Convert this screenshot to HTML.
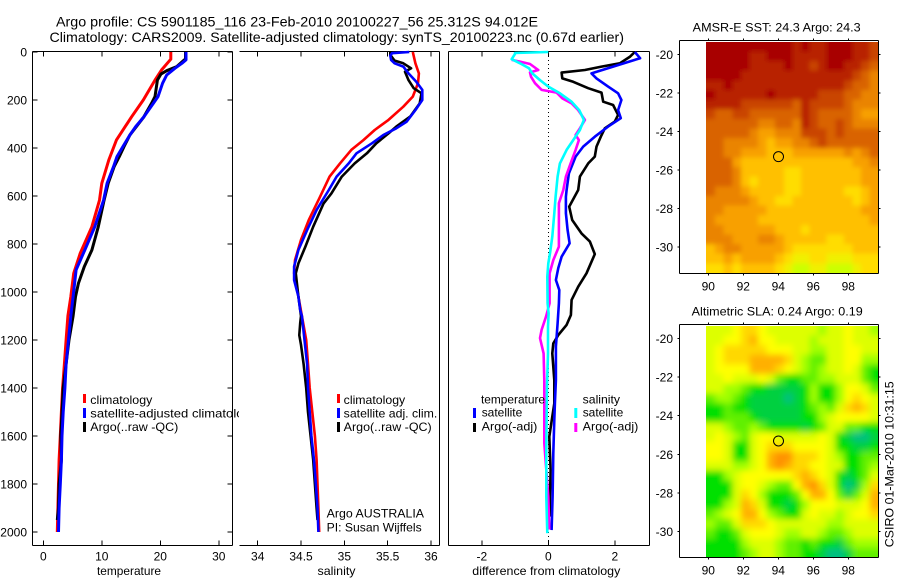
<!DOCTYPE html>
<html lang="en">
<head>
<meta charset="utf-8">
<title>Argo profile chart</title>
<style>
html,body{margin:0;padding:0;background:#fff;}
svg{display:block;}
text{font-family:"Liberation Sans",sans-serif;font-size:12px;fill:#000;}
.ttl{font-size:14px;}
</style>
</head>
<body>
<svg id="chart" xmlns="http://www.w3.org/2000/svg" width="900" height="580" viewBox="0 0 900 580">
<defs>
<clipPath id="panel1-legend-clip"><rect x="32" y="380" width="207" height="70"/></clipPath>
<filter id="sst-soften" filterUnits="userSpaceOnUse" x="660" y="0" width="240" height="300"><feGaussianBlur stdDeviation="2.4"/></filter>
<filter id="sla-soften" filterUnits="userSpaceOnUse" x="660" y="290" width="240" height="290"><feGaussianBlur stdDeviation="3.2"/></filter>
<clipPath id="sst-image-clip"><rect x="706" y="42" width="172" height="231"/></clipPath>
<clipPath id="sla-image-clip"><rect x="706" y="326" width="172" height="231"/></clipPath>
</defs>
<text class="ttl" x="56" y="26.5" textLength="482" lengthAdjust="spacingAndGlyphs">Argo profile: CS 5901185_116 23-Feb-2010 20100227_56 25.312S 94.012E</text>
<text class="ttl" x="49.5" y="42" textLength="574.5" lengthAdjust="spacingAndGlyphs">Climatology: CARS2009. Satellite-adjusted climatology: synTS_20100223.nc (0.67d earlier)</text>
<g id="plots"></g>
<text x="97" y="575" textLength="64" lengthAdjust="spacingAndGlyphs">temperature</text>
<text x="317.5" y="575" textLength="38" lengthAdjust="spacingAndGlyphs">salinity</text>
<text x="472.3" y="575" textLength="148" lengthAdjust="spacingAndGlyphs">difference from climatology</text>

<g>
<rect x="83" y="394" width="3" height="9" fill="#ff0000"/>
<rect x="83" y="408" width="3" height="10" fill="#0000ff"/>
<rect x="83" y="422" width="3" height="10" fill="#000"/>
<text x="90.3" y="404" textLength="62" lengthAdjust="spacingAndGlyphs">climatology</text>
<text x="90.3" y="417.5" clip-path="url(#panel1-legend-clip)" textLength="167" lengthAdjust="spacingAndGlyphs">satellite-adjusted climatology</text>
<text x="90.3" y="431" textLength="88" lengthAdjust="spacingAndGlyphs">Argo(..raw -QC)</text>
</g>

<g>
<rect x="337" y="394" width="3" height="9" fill="#ff0000"/>
<rect x="337" y="408" width="3" height="10" fill="#0000ff"/>
<rect x="337" y="422" width="3" height="10" fill="#000"/>
<text x="343.7" y="404" textLength="61.5" lengthAdjust="spacingAndGlyphs">climatology</text>
<text x="343.7" y="417.5" textLength="93.6" lengthAdjust="spacingAndGlyphs">satellite adj. clim.</text>
<text x="343.7" y="431" textLength="88" lengthAdjust="spacingAndGlyphs">Argo(..raw -QC)</text>
<text x="326.7" y="517.3" textLength="97.3" lengthAdjust="spacingAndGlyphs">Argo AUSTRALIA</text>
<text x="326.7" y="531.7" textLength="95" lengthAdjust="spacingAndGlyphs">PI: Susan Wijffels</text>
</g>

<g>
<text x="481" y="403.3" textLength="64" lengthAdjust="spacingAndGlyphs">temperature</text>
<rect x="473" y="408" width="3" height="10" fill="#0000ff"/>
<text x="481.7" y="416.7" textLength="40.6" lengthAdjust="spacingAndGlyphs">satellite</text>
<rect x="473" y="423" width="3" height="9" fill="#000"/>
<text x="481.7" y="430.7" textLength="55.6" lengthAdjust="spacingAndGlyphs">Argo(-adj)</text>
<text x="582.7" y="403.3" textLength="37.3" lengthAdjust="spacingAndGlyphs">salinity</text>
<rect x="574.3" y="408" width="3" height="10" fill="#00ffff"/>
<text x="582.7" y="416.7" textLength="40.6" lengthAdjust="spacingAndGlyphs">satellite</text>
<rect x="574.3" y="423" width="3" height="9" fill="#ff00ff"/>
<text x="582.7" y="430.7" textLength="55.6" lengthAdjust="spacingAndGlyphs">Argo(-adj)</text>
</g>

<text x="692.7" y="31.7" textLength="168" lengthAdjust="spacingAndGlyphs">AMSR-E SST: 24.3 Argo: 24.3</text>
<text x="691.7" y="315.7" textLength="171" lengthAdjust="spacingAndGlyphs">Altimetric SLA: 0.24 Argo: 0.19</text>
<text transform="translate(893.5,547.3) rotate(-90)" x="0" y="0" textLength="166" lengthAdjust="spacingAndGlyphs">CSIRO 01-Mar-2010 10:31:15</text>
</svg>

<script>
// ---------- axis tick labels ----------
const depthTicks = [0,200,400,600,800,1000,1200,1400,1600,1800,2000];
const temperatureTicks = [0,10,20,30];
const salinityTicks = [34,34.5,35,35.5,36];
const differenceTicks = [-2,0,2];
const lonTicks = [90,92,94,96,98];
const latTicks = [-20,-22,-24,-26,-28,-30];

// ---------- temperature profiles ----------
const tempClimDepth = [0,30,75,117,200,270,311,367,450,547,617,728,839,922,1020,1100,1200,1300,1400,1500,1600,1700,1800,1900,2000];
const tempClimValue = [21.8,21.8,20.2,19.1,17.1,15.1,14.0,12.5,11.2,10.0,9.6,8.3,6.3,5.2,4.7,4.2,3.9,3.6,3.3,3.1,2.9,2.7,2.6,2.5,2.4];
const tempSatDepth = [0,33,47,68,96,130,186,214,270,311,346,394,436,478,547,617,728,825,908,1020,1100,1200,1300,1400,1500,1600,1700,1800,1900,2000];
const tempSatValue = [24.4,24.4,23.7,22.5,21.1,20.4,19.6,18.8,17.2,15.8,14.8,13.6,12.6,12.0,10.9,10.3,8.8,7.1,5.6,5.1,4.7,4.3,3.9,3.7,3.4,3.2,3.1,2.9,2.7,2.6];
const tempArgoDepth = [0,30,33,61,78,92,117,186,214,270,346,394,436,478,547,617,728,825,894,964,1020,1100,1200,1300,1400,1500,1600,1700,1800,1900,1950];
const tempArgoValue = [24.3,24.3,24.1,22.8,21.1,20.1,19.5,19.1,18.5,17.2,14.8,13.8,13.0,12.1,11.1,10.4,9.4,8.3,7.0,6.0,5.5,5.1,4.4,3.9,3.4,3.2,3.0,3.1,2.7,2.6,2.4];

// ---------- salinity profiles ----------
const salClimDepth = [0,47,89,130,186,228,283,325,367,408,464,519,603,700,783,867,922,1000,1100,1200,1300,1400,1500,1600,1700,1800,1900,2000];
const salClimValue = [35.79,35.82,35.86,35.85,35.79,35.68,35.51,35.35,35.22,35.08,34.95,34.83,34.72,34.59,34.50,34.43,34.42,34.46,34.51,34.56,34.58,34.60,34.63,34.66,34.68,34.69,34.70,34.71];
const salSatDepth = [0,5,15,33,47,61,89,124,158,200,242,290,318,346,380,422,464,519,575,658,742,825,894,950,1019,1075,1100,1200,1300,1400,1500,1600,1700,1800,1900,2000];
const salSatValue = [35.75,35.55,35.53,35.54,35.58,35.68,35.74,35.83,35.90,35.90,35.82,35.72,35.60,35.45,35.32,35.14,35.05,34.91,34.82,34.68,34.57,34.47,34.42,34.42,34.47,34.49,34.51,34.54,34.57,34.58,34.60,34.62,34.65,34.67,34.69,34.70];
const salArgoDepth = [0,12,36,47,68,82,117,151,172,214,269,311,339,380,422,464,519,589,631,728,811,881,922,1019,1100,1130,1180,1220,1300,1400,1500,1600,1700,1800,1900,1950];
const salArgoValue = [35.53,35.53,35.58,35.68,35.77,35.70,35.74,35.80,35.89,35.87,35.76,35.60,35.51,35.37,35.26,35.12,34.97,34.85,34.76,34.64,34.55,34.47,34.44,34.47,34.50,34.49,34.48,34.50,34.53,34.56,34.58,34.61,34.64,34.66,34.68,34.69];

// ---------- differences from climatology ----------
const diffTempArgoDepth = [0,19,47,61,75,86,110,124,151,169,207,221,262,290,318,353,394,436,464,519,575,644,700,756,790,842,922,978,1033,1096,1137,1179,1214,1256,1367,1464,1519,1603,1742,1853,1936];
const diffTempArgoValue = [2.6,2.46,2.15,1.6,1.1,0.4,0.42,0.75,1.2,1.6,1.65,1.95,2.1,2.0,1.7,1.58,1.45,1.4,1.2,0.95,0.9,0.63,0.72,1.0,1.25,1.4,1.15,0.9,0.7,0.68,0.55,0.3,0.15,0.12,0.18,0.18,0.12,0.03,0.07,0.05,0.05];
const diffTempSatDepth = [0,26,89,110,144,172,200,242,276,311,353,394,436,506,575,603,672,742,797,853,900,950,992,1047,1131,1228,1367,1464,1533,1672,1853,1992];
const diffTempSatValue = [2.6,2.76,1.3,1.45,1.8,2.1,2.2,2.1,2.18,1.8,1.4,1.05,0.82,0.62,0.55,0.53,0.53,0.58,0.64,0.4,0.3,0.23,0.33,0.32,0.28,0.23,0.23,0.2,0.18,0.15,0.13,0.1];
const diffSalArgoDepth = [33,40,50,75,85,103,130,158,169,193,214,242,283,318,346,367,408,464,519,575,630,714,811,867,922,1047,1103,1158,1192,1256,1367,1533,1630,1853,1990];
const diffSalArgoValue = [-1.1,-0.85,-0.55,-0.3,-0.55,-0.52,-0.4,-0.2,0.25,0.42,0.7,0.9,1.1,0.95,0.82,0.92,0.82,0.67,0.53,0.45,0.32,0.32,0.32,0.15,0.04,0.04,-0.07,-0.2,-0.25,-0.14,-0.12,-0.12,-0.12,0,0.03];
const diffSalSatDepth = [0,4,8,30,47,68,89,117,144,172,207,242,283,325,367,408,464,519,603,672,769,839,881,936,1047,1089,1144,1256,1394,1533,1672,1853,2005];
const diffSalSatValue = [0,-1.0,-1.0,-1.1,-0.85,-0.58,-0.48,-0.25,0,0.35,0.7,0.93,1.07,0.95,0.75,0.55,0.35,0.28,0.22,0.18,0.12,0.05,0,-0.03,-0.02,0.01,-0.01,-0.01,-0.04,-0.05,-0.06,-0.06,-0.03];

// ---------- profile location ----------
const floatLon = [94.012];
const floatLat = [-25.312];

// ---------- SST map grid (deg C), rows north to south ----------
const sstGrid = [
[26.8,26.8,26.8,26.8,26.8,26.8,26.8,26.8,26.8,26.8,26.4,26.8,26.4,26.4,26.8,26.8,26.8,26.4,26.4,26.0],
[26.8,26.8,26.8,26.8,26.8,26.4,26.4,26.8,26.8,26.8,26.4,26.4,26.4,26.4,26.8,26.8,26.8,26.4,26.4,26.0],
[26.8,26.8,26.8,26.8,26.8,26.4,26.4,26.4,26.4,26.8,26.4,26.4,26.0,26.4,26.8,26.8,26.4,26.4,26.0,25.6],
[26.8,26.8,26.8,26.8,26.4,26.4,26.4,26.4,26.4,26.4,26.4,26.4,26.4,26.4,26.4,26.4,26.4,26.0,25.6,25.2],
[26.4,26.4,26.8,26.4,26.4,26.4,26.4,26.4,26.4,26.4,26.4,26.4,26.4,26.4,26.4,26.4,26.0,25.6,25.6,25.2],
[26.8,26.4,26.4,26.4,26.4,26.4,26.4,26.8,26.4,26.4,26.4,26.4,26.4,26.0,26.0,26.0,25.6,25.6,25.2,25.2],
[26.4,26.4,26.4,26.4,26.0,26.0,26.0,26.0,26.0,26.0,25.6,26.4,26.0,26.0,26.0,26.0,25.6,25.2,25.2,25.2],
[26.0,25.6,25.6,26.0,26.0,25.6,25.6,25.6,25.6,25.6,25.6,26.4,26.0,25.6,25.6,25.6,25.6,25.2,24.8,24.8],
[25.6,25.6,25.6,25.6,25.6,25.6,25.2,25.2,25.6,25.6,25.2,26.4,26.0,25.6,25.6,26.0,25.6,25.2,25.2,25.2],
[25.6,25.6,25.6,25.6,25.6,25.2,24.8,24.8,25.2,25.2,25.2,26.0,26.0,26.0,25.6,26.0,25.6,25.6,25.6,25.6],
[25.6,25.6,25.2,25.2,25.2,25.2,24.8,24.4,24.8,24.8,25.2,25.2,25.6,26.0,25.6,25.6,25.6,25.6,25.6,25.6],
[25.6,25.6,25.2,25.2,24.8,24.8,24.8,24.4,24.4,24.4,24.8,24.8,24.8,24.8,24.8,24.8,25.2,24.8,25.2,25.6],
[25.6,25.6,25.6,24.8,24.4,24.4,24.4,24.4,24.4,24.4,24.4,24.4,24.4,24.4,24.4,24.4,24.4,24.8,24.8,25.2],
[25.6,25.6,25.6,25.2,24.4,24.4,24.4,24.4,24.4,24.0,24.0,24.4,24.4,24.4,24.4,24.4,24.4,24.4,24.8,24.8],
[25.6,25.6,25.6,25.2,24.4,24.0,24.4,24.4,24.4,24.0,24.0,24.4,24.4,24.4,24.4,24.4,24.4,24.4,24.8,24.8],
[25.6,25.2,25.2,25.2,24.8,24.4,24.4,24.4,24.4,24.0,24.0,24.4,24.4,24.4,24.4,24.4,24.0,24.0,24.4,24.8],
[25.2,25.2,25.2,25.2,25.2,24.8,24.4,24.4,24.0,24.0,24.4,24.4,24.4,24.4,24.4,24.4,24.4,24.0,24.4,24.8],
[25.2,25.2,24.8,24.8,24.8,24.8,24.8,24.4,24.4,24.4,24.4,24.4,24.4,24.4,24.4,24.4,24.4,24.4,24.8,24.8],
[25.2,24.8,24.8,24.8,24.8,24.8,24.4,24.4,24.4,24.4,24.4,24.4,24.4,24.4,24.4,24.4,24.4,24.4,24.4,24.8],
[25.2,25.2,24.8,24.8,24.8,24.8,24.8,24.8,24.4,24.4,24.4,24.0,24.4,24.4,24.4,24.4,24.4,24.4,24.4,24.4],
[25.2,25.2,25.2,24.8,24.8,24.8,25.2,25.2,24.8,24.4,24.4,24.4,24.4,24.4,24.0,24.0,24.4,24.4,24.4,24.4],
[24.4,24.8,25.2,25.2,24.8,24.8,24.8,24.8,24.8,24.4,24.0,24.0,24.0,24.0,24.0,24.0,24.0,24.4,24.4,24.4],
[24.4,24.4,24.8,24.4,24.8,24.8,24.8,24.8,24.4,24.0,23.6,23.6,24.0,24.0,23.6,23.6,23.6,24.0,24.0,24.0],
[24.0,24.0,24.4,24.0,24.4,24.4,24.4,24.4,24.0,23.6,23.2,23.2,23.6,23.6,23.2,23.2,23.2,23.6,24.0,24.0]
];

// ---------- SLA map grid (m), rows north to south ----------
const slaGrid = [
[0.05,0.05,0.05,0.15,0.25,0.25,0.15,0.05,0.05,0.05,0.05,0.05,0.05,-0.05,0.05,0.05,0.15,0.05,0.05,-0.05],
[0.05,0.05,0.15,0.15,0.25,0.35,0.15,0.15,0.05,0.05,0.05,0.05,-0.05,0.05,0.05,0.05,0.15,0.05,0.05,0.05],
[0.05,0.15,0.25,0.25,0.25,0.25,0.25,0.15,0.15,0.15,0.05,0.05,-0.05,-0.05,0.05,0.05,0.15,0.15,0.05,0.05],
[0.05,0.15,0.25,0.25,0.25,0.35,0.35,0.35,0.35,0.25,0.05,-0.05,-0.15,-0.15,0.05,0.05,0.15,0.15,-0.05,-0.05],
[0.05,0.15,0.15,0.15,0.15,0.35,0.35,0.35,0.25,0.15,0.05,-0.05,-0.15,-0.05,0.05,0.05,0.15,0.05,-0.15,-0.25],
[0.05,0.05,0.15,0.05,0.05,0.05,0.15,0.05,-0.15,-0.25,-0.25,-0.15,-0.15,-0.05,-0.05,0.05,0.05,0.05,-0.15,-0.25],
[0.05,0.05,-0.05,-0.05,-0.15,-0.25,-0.25,-0.35,-0.35,-0.35,-0.35,-0.25,-0.05,-0.25,-0.25,-0.05,0.15,0.15,0.05,-0.15],
[-0.15,-0.05,-0.05,-0.15,-0.25,-0.35,-0.35,-0.35,-0.35,-0.45,-0.35,-0.25,-0.05,-0.25,-0.25,-0.05,0.15,0.25,0.15,0.05],
[-0.25,-0.25,-0.15,-0.25,-0.25,-0.35,-0.35,-0.35,-0.35,-0.35,-0.35,-0.25,-0.15,-0.05,-0.15,0.05,0.25,0.35,0.25,0.05],
[-0.25,-0.25,-0.15,-0.15,-0.15,-0.25,-0.35,-0.35,-0.35,-0.35,-0.35,-0.25,-0.25,-0.05,0.05,0.15,0.15,0.15,0.15,0.05],
[0.05,0.05,-0.05,-0.15,-0.15,-0.05,-0.15,-0.25,-0.25,-0.25,-0.25,-0.35,-0.25,-0.15,0.05,0.05,-0.15,-0.15,-0.25,-0.25],
[0.05,0.15,0.05,-0.05,-0.15,0.05,0.15,0.15,0.05,0.05,0.05,0.05,0.05,0.15,0.05,-0.25,-0.35,-0.45,-0.45,-0.35],
[0.15,0.15,0.05,-0.25,-0.25,0.05,0.15,0.25,0.25,0.25,0.15,0.15,0.15,0.15,0.05,-0.25,-0.25,-0.35,-0.35,-0.25],
[0.15,0.15,0.05,-0.25,-0.25,0.05,0.15,0.35,0.45,0.45,0.25,0.25,0.25,0.15,0.05,-0.05,-0.25,-0.25,-0.15,-0.15],
[0.05,0.05,0.05,-0.05,-0.05,0.05,0.15,0.35,0.45,0.35,0.25,0.25,0.15,0.15,0.05,0.05,-0.25,-0.25,-0.15,-0.05],
[-0.25,-0.25,-0.05,0.05,0.15,0.15,0.15,0.15,0.15,0.15,0.25,0.35,0.25,0.15,0.05,-0.25,-0.35,-0.25,-0.15,0.05],
[-0.25,-0.25,-0.25,0.05,0.15,0.15,0.05,-0.05,-0.15,-0.15,0.15,0.35,0.45,0.25,0.05,-0.25,-0.45,-0.35,-0.05,0.25],
[-0.25,-0.25,-0.25,0.05,0.25,0.15,-0.05,-0.25,-0.25,-0.25,-0.15,0.15,0.35,0.35,0.15,-0.15,-0.35,-0.15,0.05,0.35],
[-0.25,-0.25,-0.05,0.05,0.35,0.25,0.05,-0.25,-0.25,-0.35,-0.25,-0.05,0.15,0.15,0.15,0.05,0.05,0.05,0.15,0.35],
[-0.15,-0.05,0.05,0.15,0.35,0.35,0.15,-0.05,-0.15,-0.25,-0.25,0.05,0.15,0.05,0.05,-0.05,0.05,0.15,0.15,0.25],
[-0.05,-0.15,-0.15,0.05,0.25,0.25,0.25,0.15,0.05,0.05,0.05,0.05,0.05,0.05,-0.05,-0.05,0.05,0.05,0.05,0.05],
[-0.15,-0.25,-0.25,-0.15,0.05,0.15,0.15,0.15,0.05,-0.05,-0.05,0.05,0.05,-0.05,-0.15,-0.15,-0.05,0.05,0.05,0.05],
[-0.25,-0.25,-0.25,-0.25,-0.05,0.05,0.05,0.05,-0.05,-0.15,-0.15,-0.25,-0.15,-0.25,-0.25,-0.35,-0.15,-0.05,-0.05,-0.05],
[-0.25,-0.25,-0.25,-0.25,-0.15,-0.05,0.05,0.05,-0.05,-0.15,-0.15,-0.25,-0.25,-0.35,-0.45,-0.45,-0.35,-0.15,-0.15,-0.15]
];

// ---------- drawing ----------
const NS = 'http://www.w3.org/2000/svg';
const plots = document.getElementById('plots');

function make(tag, attrs, parent) {
  const el = document.createElementNS(NS, tag);
  for (const k in attrs) el.setAttribute(k, attrs[k]);
  (parent || plots).appendChild(el);
  return el;
}

function depthY(d) { return 52 + d * 0.24; }
function tempX(v) { return 43.3 + v * 5.85; }
function salX(v) { return 257.7 + (v - 34) * 86.65; }
function diffX(v) { return 548.3 + v * 33.25; }
function lonX(lon) { return 708.3 + (lon - 90) * 17.5; }
function sstLatY(lat) { return 54.3 + (-20 - lat) * 19.27; }
function slaLatY(lat) { return 338.3 + (-20 - lat) * 19.33; }

function axisLine(x1, y1, x2, y2, name, group) {
  const el = make('line', {x1: x1, y1: y1, x2: x2, y2: y2, stroke: '#000', 'stroke-width': 1, 'shape-rendering': 'crispEdges'}, group);
  
  
  return el;
}

function tickLabel(x, y, label, anchor, group) {
  const el = make('text', {x: x, y: y, 'text-anchor': anchor}, group);
  el.textContent = String(label);
  
  
  return el;
}

function profile(depths, values, xFn, colour, width, name, group) {
  const pts = depths.map(function (d, i) { return xFn(values[i]).toFixed(1) + ',' + depthY(d).toFixed(1); }).join(' ');
  const el = make('polyline', {points: pts, fill: 'none', stroke: colour, 'stroke-width': width, 'stroke-linejoin': 'round'}, group);
  
  
  return el;
}

function profilePanel(name, left, right, leftLine, yTicks, xTicks, xFn) {
  const g = make('g', {});
  
  
  const top = 51.5, bottom = 545.5;
  axisLine(left, top, right, top, 'top-axis-line', g);
  axisLine(left, bottom, right, bottom, 'bottom-axis-line', g);
  axisLine(right, top, right, bottom, 'right-axis-line', g);
  if (leftLine) axisLine(left, top, left, bottom, 'left-axis-line', g);
  xTicks.forEach(function (t) {
    const x = xFn(t);
    axisLine(x, top, x, top + 5, 'x-tick-top', g);
    axisLine(x, bottom, x, bottom - 5, 'x-tick-bottom', g);
    tickLabel(x, 560.7, t, 'middle', g);
  });
  if (yTicks) {
    depthTicks.forEach(function (d) {
      const y = depthY(d);
      axisLine(left, y, left + 5, y, 'y-tick-left', g);
      axisLine(right, y, right - 5, y, 'y-tick-right', g);
      tickLabel(27, y + 4.5, d, 'end', g);
    });
  }
  return g;
}

const p1 = profilePanel('temperature-panel', 32.5, 232.5, true, true, temperatureTicks, tempX);
profile(tempClimDepth, tempClimValue, tempX, '#ff0000', 3, 'temperature-climatology-line', p1);
profile(tempArgoDepth, tempArgoValue, tempX, '#000000', 3, 'temperature-argo-line', p1);
profile(tempSatDepth, tempSatValue, tempX, '#0000ff', 3, 'temperature-satellite-adjusted-line', p1);

const p2 = profilePanel('salinity-panel', 239.5, 439.5, false, false, salinityTicks, salX);
profile(salClimDepth, salClimValue, salX, '#ff0000', 2.6, 'salinity-climatology-line', p2);
profile(salArgoDepth, salArgoValue, salX, '#000000', 2.6, 'salinity-argo-line', p2);
profile(salSatDepth, salSatValue, salX, '#0000ff', 2.6, 'salinity-satellite-adjusted-line', p2);

const p3 = profilePanel('difference-panel', 448.5, 649.5, true, false, differenceTicks, diffX);
const zeroLine = make('line', {x1: diffX(0), y1: 52, x2: diffX(0), y2: 545, stroke: '#000', 'stroke-width': 1, 'stroke-dasharray': '1 3', 'shape-rendering': 'crispEdges'}, p3);


profile(diffTempArgoDepth, diffTempArgoValue, diffX, '#000000', 2.6, 'difference-temperature-argo-line', p3);
profile(diffTempSatDepth, diffTempSatValue, diffX, '#0000ff', 2.6, 'difference-temperature-satellite-line', p3);
profile(diffSalArgoDepth, diffSalArgoValue, diffX, '#ff00ff', 2.6, 'difference-salinity-argo-line', p3);
profile(diffSalSatDepth, diffSalSatValue, diffX, '#00ffff', 2.6, 'difference-salinity-satellite-line', p3);

function hexToRgb(h) {
  return [parseInt(h.slice(1, 3), 16), parseInt(h.slice(3, 5), 16), parseInt(h.slice(5, 7), 16)];
}

function rampColour(v, vMin, vMax, stops) {
  let t = (v - vMin) / (vMax - vMin);
  t = Math.max(0, Math.min(1, t)) * (stops.length - 1);
  const i = Math.min(Math.floor(t), stops.length - 2);
  const f = t - i;
  const a = hexToRgb(stops[i]);
  const b = hexToRgb(stops[i + 1]);
  return 'rgb(' + a.map(function (c, k) { return Math.round(c + (b[k] - c) * f); }).join(',') + ')';
}

const sstColours = ['#ccff00','#f0f000','#ffdd00','#ffc000','#f8a000','#ea8400','#d96400','#c94400','#b82000','#a80000'];
const slaColours = ['#00c080','#00d040','#00e000','#60f000','#a0ff00','#ddff00','#ffff00','#ffd800','#ffb000','#ff9000'];

const gridLon0 = 89.9, gridDLon = 0.4905, gridLat0 = -19.35, gridDLat = 0.5;

function mapPanel(name, grid, vMin, vMax, colours, latY, top, bottom, labelY, clipId, softenId) {
  const g = make('g', {});
  
  
  const left = 679.5, right = 878.5;
  const clipped = make('g', {'clip-path': 'url(#' + clipId + ')'}, g);
  
  
  const soft = make('g', {filter: 'url(#' + softenId + ')'}, clipped);
  
  
  const bleed = 14;
  grid.forEach(function (row, j) {
    row.forEach(function (v, i) {
      let x0 = lonX(gridLon0 + i * gridDLon);
      let x1 = lonX(gridLon0 + (i + 1) * gridDLon);
      let y0 = latY(gridLat0 - j * gridDLat);
      let y1 = latY(gridLat0 - (j + 1) * gridDLat);
      if (i === 0) x0 -= bleed;
      if (i === row.length - 1) x1 += bleed;
      if (j === 0) y0 -= bleed;
      if (j === grid.length - 1) y1 += bleed;
      const cell = make('rect', {x: x0, y: y0, width: x1 - x0 + 0.5, height: y1 - y0 + 0.5, fill: rampColour(v, vMin, vMax, colours), 'shape-rendering': 'crispEdges'}, soft);
      
      
    });
  });
  axisLine(left, top, right, top, 'top-axis-line', g);
  axisLine(left, bottom, right, bottom, 'bottom-axis-line', g);
  axisLine(left, top, left, bottom, 'left-axis-line', g);
  axisLine(right, top, right, bottom, 'right-axis-line', g);
  lonTicks.forEach(function (t) {
    const x = lonX(t);
    axisLine(x, top, x, top - 2, 'x-tick-top', g);
    axisLine(x, bottom, x, bottom + 2, 'x-tick-bottom', g);
    tickLabel(x, labelY, t, 'middle', g);
  });
  latTicks.forEach(function (t) {
    const y = latY(t);
    axisLine(left, y, left - 2, y, 'y-tick-left', g);
    axisLine(right, y, right + 2, y, 'y-tick-right', g);
    tickLabel(673, y + 4.5, t, 'end', g);
  });
  const marker = make('circle', {cx: lonX(floatLon[0]), cy: latY(floatLat[0]), r: 5, fill: 'none', stroke: '#000', 'stroke-width': 1}, g);
  
  
}

mapPanel('sst-map', sstGrid, 23.2, 26.8, sstColours, sstLatY, 40.5, 273.5, 290.7, 'sst-image-clip', 'sst-soften');
mapPanel('sla-map', slaGrid, -0.45, 0.45, slaColours, slaLatY, 324.5, 557.5, 574.3, 'sla-image-clip', 'sla-soften');
</script>
</body>
</html>
